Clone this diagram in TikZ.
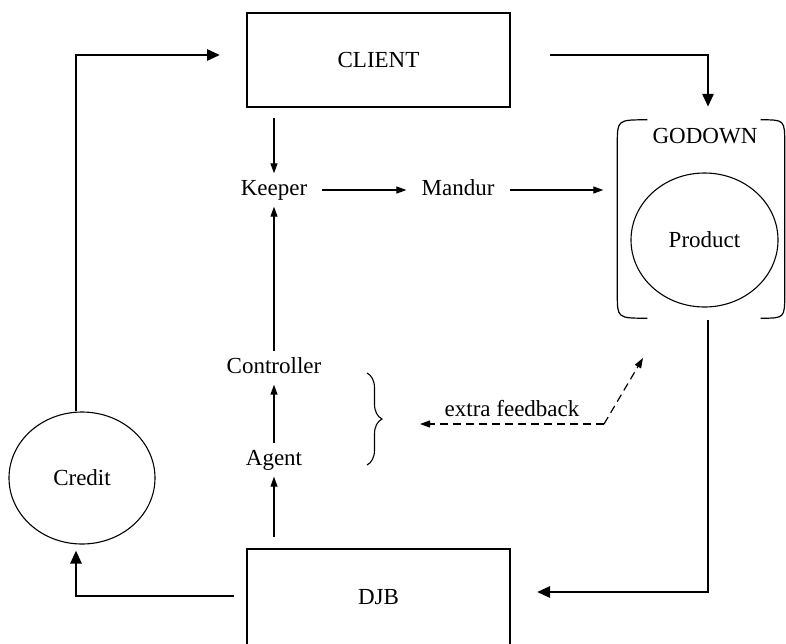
\documentclass[tikz,border=0pt]{standalone}
\usepackage{fontspec}
\setmainfont{Liberation Serif}
\usetikzlibrary{arrows.meta, shapes.geometric, decorations.pathreplacing, calc}

\begin{document}
\begin{tikzpicture}[
  x=1pt, y=-1pt,
  font=\fontsize{23}{27}\selectfont,
  box/.style={rectangle, draw, line width=1.2pt, minimum width=263pt,
              minimum height=94pt, outer sep=0pt},
  lbl/.style={inner xsep=15pt, inner ysep=6pt, text height=16pt, text depth=5pt},
  round/.style={ellipse, draw, line width=1.1pt, inner sep=0pt},
  flow/.style={line width=2.7pt, -{Triangle[length=13pt, width=11pt]}},
  link/.style={line width=1.2pt, -{Triangle[length=10pt, width=7pt]}},
  fb/.style={line width=1.2pt, dash pattern=on 8pt off 5pt,
             -{Triangle[length=10pt, width=7pt]}},
]

% page
\useasboundingbox (0,0) rectangle (786,643);
\fill[white] (0,0) rectangle (786,643);

% main blocks
\node[box] (client) at (378.5,60) {CLIENT};
\node[box, minimum height=96pt] (djb) at (378.5,597) {DJB};
\node[round, minimum width=146pt, minimum height=132pt] (credit) at (82,478) {Credit};

% godown with the product inside
\node[minimum width=167pt, minimum height=198pt, inner sep=0pt] (godown) at (701,219) {};
\node[lbl] (godownlbl) at (705,138) {GODOWN};
\node[round, minimum width=147pt, minimum height=134pt] (product) at (704.5,240) {Product};
\draw[line width=1.2pt]
  ([xshift=30pt]godown.north west) .. controls (godown.north west) .. ([yshift=-24pt]godown.north west)
  -- ([yshift=24pt]godown.south west)
  .. controls (godown.south west) .. ([xshift=30pt]godown.south west);
\draw[line width=1.2pt]
  ([xshift=-24pt]godown.north east) .. controls (godown.north east) .. ([yshift=-24pt]godown.north east)
  -- ([yshift=24pt]godown.south east)
  .. controls (godown.south east) .. ([xshift=-24pt]godown.south east);

% staff
\node[lbl] (keeper) at (274,190) {Keeper};
\node[lbl] (mandur) at (458,190) {Mandur};
\node[lbl] (controller) at (274,368) {Controller};
\node[lbl] (agent) at (274,460) {Agent};

% outer loop
\draw[flow] ([xshift=-6pt]credit.north) |- ([xshift=-27pt, yshift=5pt]client.west);
\draw[flow] ([xshift=40pt, yshift=5pt]client.east) -| ([xshift=7pt, yshift=13pt]godown.north);
\draw[flow] ([xshift=7pt, yshift=-2pt]godown.south) |- ([xshift=27pt, yshift=5pt]djb.east);
\draw[flow] ([xshift=-13pt, yshift=1pt]djb.west) -| ([xshift=-6pt, yshift=-6pt]credit.south);

% inner chain
\draw[link, shorten <=11pt] (client.south -| keeper.north) -- (keeper.north);
\draw[link] (keeper) -- (mandur);
\draw[link, shorten >=14pt] (mandur) -- (mandur -| godown.west);
\draw[link] (controller.north) -- (keeper.south);
\draw[link] (agent.north) -- (controller.south);
\draw[link, shorten <=12pt] (djb.north -| agent.south) -- (agent.south);

% feedback
\draw[line width=1.1pt, decorate, decoration={brace, amplitude=15pt}]
  (367,373) -- (367,465);
\coordinate (fbbend) at (604,424);
\coordinate (fbleft) at (420,424);
\coordinate (fbright) at (643,358);
\draw[fb] (fbbend) -- (fbleft) node[midway, above=3pt] (fblbl) {extra feedback};
\draw[fb] (fbbend) -- (fbright);
\end{tikzpicture}
\end{document}
